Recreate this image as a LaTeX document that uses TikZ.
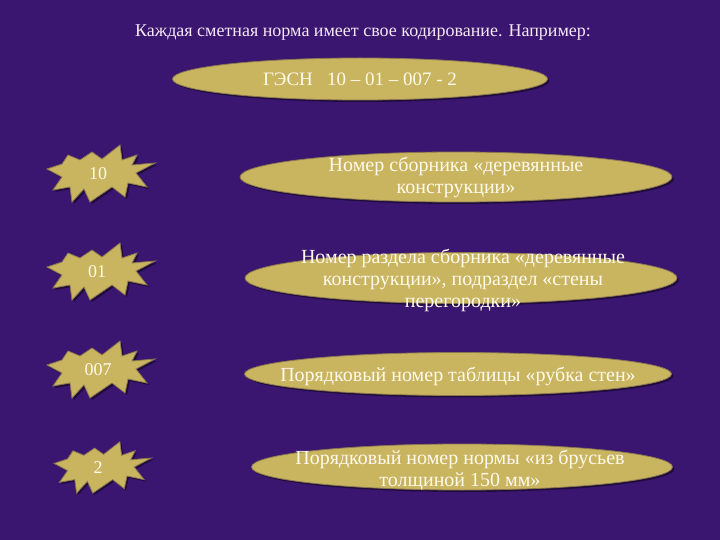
\documentclass[tikz,border=0pt]{standalone}
\usepackage{fontspec}
\setmainfont{Liberation Serif}
\usetikzlibrary{shapes.geometric,shadows}
\definecolor{bgpurple}{RGB}{58,22,112}
\definecolor{goldfill}{RGB}{201,180,96}
\definecolor{goldrim}{RGB}{140,120,80}
\definecolor{txtcream}{RGB}{255,250,235}
\definecolor{titlecol}{RGB}{245,232,245}
\def\burstpath{(-51,-4) -- (-36,-9) -- (-30,-18) -- (-18,-13) -- (-6,-21) -- (4,-14) -- (22,-28) -- (24,-13) -- (39,-18) -- (34,-8) -- (57,-10) -- (38,0) -- (49,14) -- (30,10) -- (27,24) -- (14,14) -- (-8,29) -- (-14,16) -- (-26,29) -- (-28,14) -- (-45,17) -- (-36,4) -- cycle}
\tikzset{
  oval/.style={ellipse, draw=goldrim, line width=0.8pt, fill=goldfill, inner sep=0pt,
    drop shadow={shadow xshift=2pt, shadow yshift=-2pt, fill=black, opacity=0.45}},
  otext/.style={text=txtcream, align=center, font=\fontsize{20}{22}\selectfont, inner sep=0pt},
  numtext/.style={text=txtcream, font=\fontsize{18}{20}\selectfont, inner sep=0pt},
  burst/.pic={
    \fill[black, opacity=0.45, shift={(2,2)}] \burstpath;
    \filldraw[fill=goldfill, draw=goldrim, line width=0.8pt, line join=miter] \burstpath;
  }
}
\begin{document}
\begin{tikzpicture}[x=1pt,y=-1pt]
\useasboundingbox (0,0) rectangle (720,540);
\fill[bgpurple] (0,0) rectangle (720,540);

\node[text=titlecol, font=\fontsize{18}{20}\selectfont, inner sep=0pt] (title) at (363,33)
  {Каждая сметная норма имеет свое кодирование. Например:};

\node[oval, minimum width=375pt, minimum height=42pt] (top) at (360,79) {};
\node[otext, font=\fontsize{19}{21}\selectfont] (toptext) at (top.center) {ГЭСН \ \ 10 – 01 – 007 - 2};

% starbursts
\pic at (98,173) {burst};
\node[numtext] (n1) at (98,174) {10};
\pic at (98,271) {burst};
\node[numtext] (n2) at (97,272) {01};
\pic at (98,369) {burst};
\node[numtext] (n3) at (98,370) {007};
\pic[scale=0.9] at (100,467) {burst};
\node[numtext] (n4) at (98,468) {2};

% ovals
\node[oval, minimum width=432pt, minimum height=50pt] (o1) at (456,177) {};
\node[otext] (t1) at (456,178) {Номер сборника «деревянные\\конструкции»};

\node[oval, minimum width=432pt, minimum height=51pt] (o2) at (461,278) {};
\node[otext] (t2) at (463,280) {Номер раздела сборника «деревянные\\конструкции», подраздел «стены\\перегородки»};

\node[oval, minimum width=427pt, minimum height=43pt] (o3) at (458,374) {};
\node[otext] (t3) at (458,376) {Порядковый номер таблицы «рубка стен»};

\node[oval, minimum width=421pt, minimum height=46pt] (o4) at (462,467) {};
\node[otext] (t4) at (460,470) {Порядковый номер нормы «из брусьев\\толщиной 150 мм»};
\end{tikzpicture}
\end{document}
